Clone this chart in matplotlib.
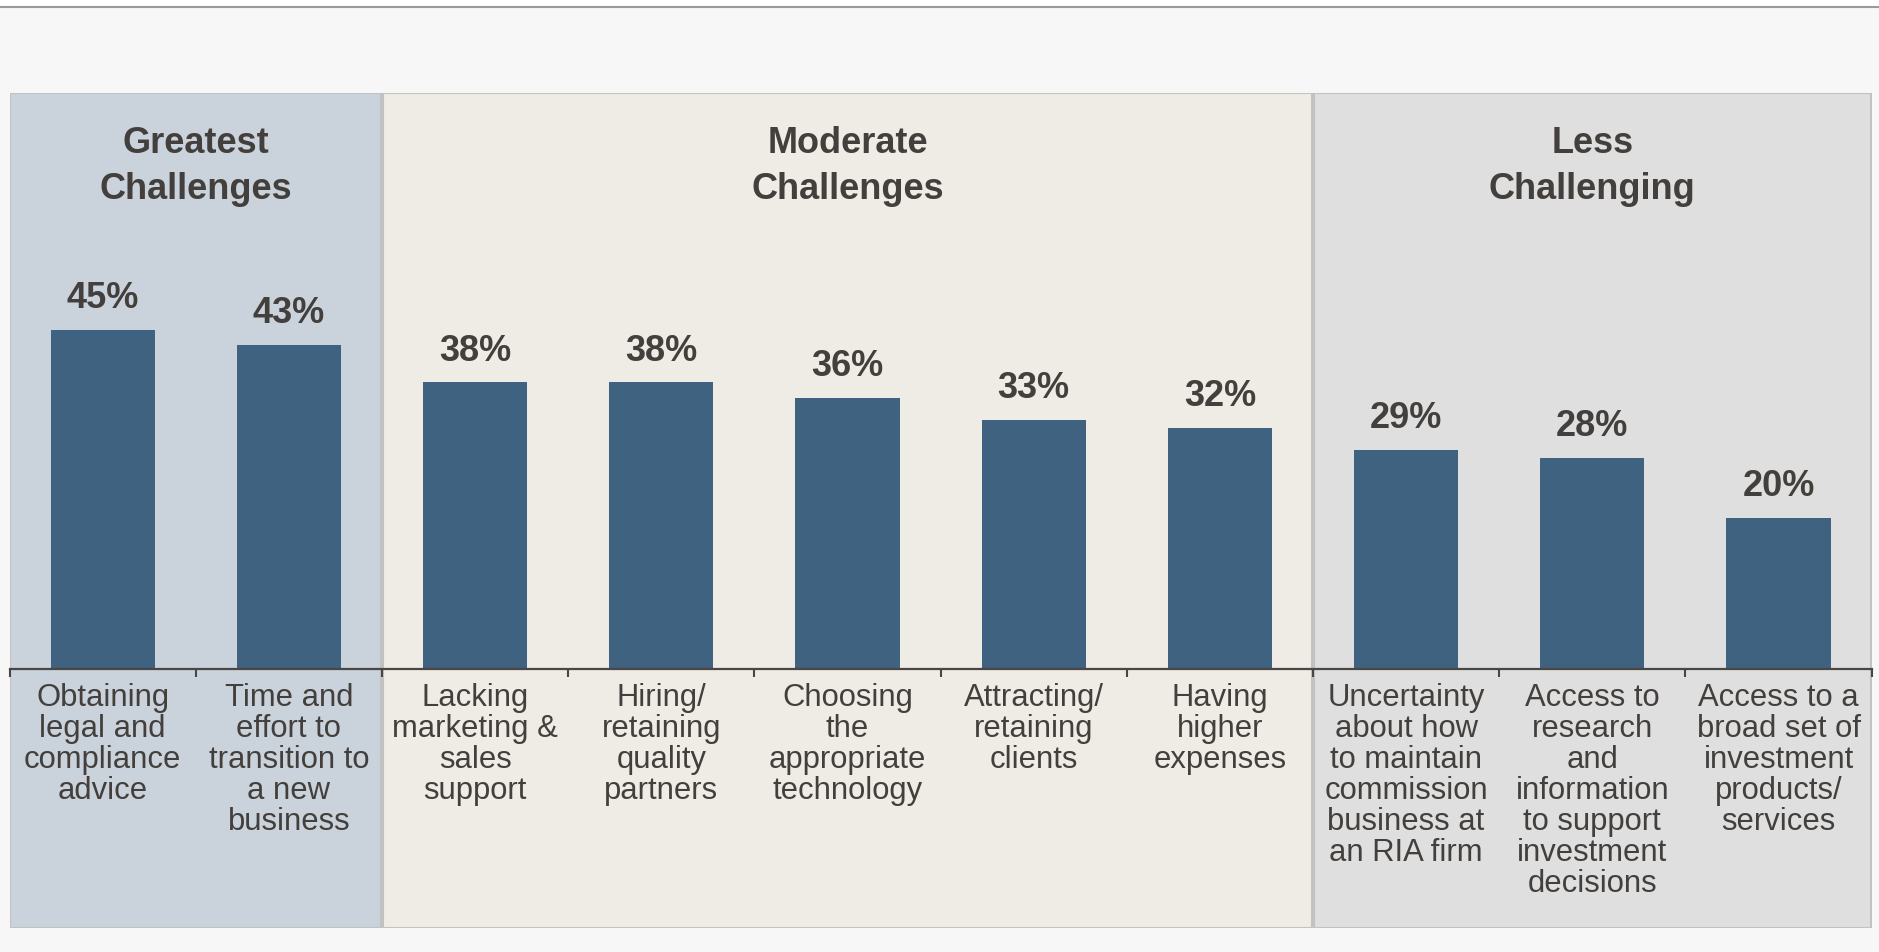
import numpy as np
import matplotlib.pyplot as plt
from matplotlib.patches import Rectangle
from matplotlib.lines import Line2D

plt.rcParams['font.family'] = ['Liberation Sans', 'DejaVu Sans']

######################################
categories = ["Obtaining\nlegal and\ncompliance\nadvice",
              "Time and\neffort to\ntransition to\na new\nbusiness",
              "Lacking\nmarketing &\nsales\nsupport",
              "Hiring/\nretaining\nquality\npartners",
              "Choosing\nthe\nappropriate\ntechnology",
              "Attracting/\nretaining\nclients",
              "Having\nhigher\nexpenses",
              "Uncertainty\nabout how\nto maintain\ncommission\nbusiness at\nan RIA firm",
              "Access to\nresearch\nand\ninformation\nto support\ninvestment\ndecisions",
              "Access to a\nbroad set of\ninvestment\nproducts/\nservices"]
values       = [45, 43, 38, 38, 36, 33, 32, 29, 28, 20]
group_names  = ["Greatest\nChallenges", "Moderate\nChallenges", "Less\nChallenging"]
group_sizes  = [2, 5, 3]
######################################
bar_color   = '#3f6280'
text_color  = '#433f3c'
panel_cols  = ['#cad3db', '#efebe5', '#dfdfdf']
W, H, DPI   = 1879, 953, 100
######################################

fig = plt.figure(figsize=(W / DPI, H / DPI), dpi=DPI, facecolor='#f7f7f7')

# white strip + rule at the very top
fig.patches.append(Rectangle((0, 1 - 7 / H), 1, 7 / H, transform=fig.transFigure,
                             facecolor='white', edgecolor='none'))
fig.lines.append(Line2D([0, 1], [1 - 8 / H, 1 - 8 / H], transform=fig.transFigure,
                        color='#9a9a9a', linewidth=1.5))

ax_left, ax_right = 9.6 / W, 1871.6 / W
ax_top, ax_bot    = 94 / H, 929 / H
ax = fig.add_axes([ax_left, 1 - ax_bot, ax_right - ax_left, ax_bot - ax_top])
ax.set_facecolor('none')

px_per_pct = 7.54
zero_px    = 670
ax.set_xlim(-0.5, 9.5)
ax.set_ylim(-(929 - zero_px) / px_per_pct, (zero_px - 94) / px_per_pct)

# group background panels + headers (baseline of the last header line)
start = 0
for name, size, col in zip(group_names, group_sizes, panel_cols):
    x0, x1 = start - 0.5, start + size - 0.5
    ax.axvspan(x0 + 0.004, x1 - 0.004, facecolor=col, edgecolor='#c2c2c2',
               linewidth=1.5, zorder=0)
    ax.text((x0 + x1) / 2, (929 - 199) / 835, name, transform=ax.get_xaxis_transform(),
            ha='center', va='baseline', fontsize=26, fontweight='bold',
            color=text_color, linespacing=1.42)
    start += size

x = np.arange(len(values))
ax.bar(x, values, width=0.56, color=bar_color, zorder=2)
for xi, v in zip(x, values):
    ax.annotate(f"{v}%", (xi, v), xytext=(0, 16.5), textcoords='offset points',
                ha='center', va='baseline', fontsize=26, fontweight='bold',
                color=text_color)

# axis line with boundary ticks
for s in ['top', 'left', 'right']:
    ax.spines[s].set_visible(False)
ax.spines['bottom'].set_position(('data', 0))
ax.spines['bottom'].set_color('#4a4643')
ax.spines['bottom'].set_linewidth(1.6)
ax.set_yticks([])
ax.set_xticks(x)
ax.set_xticklabels(categories, fontsize=22.3, color=text_color, linespacing=1.04)
ax.set_xticks(np.arange(-0.5, 10, 1), minor=True)
ax.tick_params(axis='x', which='major', length=0, pad=9.5)
ax.tick_params(axis='x', which='minor', length=6, width=1.5, color='#4a4643',
               direction='out')

fig.savefig('out.png', dpi=DPI, facecolor=fig.get_facecolor())
